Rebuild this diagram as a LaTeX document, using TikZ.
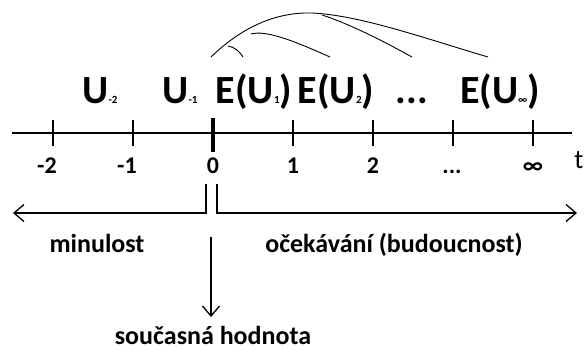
\documentclass[tikz,border=0pt]{standalone}
\usepackage{fontspec}
\setmainfont{Carlito}
\usetikzlibrary{arrows.meta}
\tikzset{>={Straight Barb[length=10pt,width=17pt]}}
\tikzstyle{biglab} = [inner sep=0pt, anchor=base,
    font=\fontsize{40}{40}\selectfont\bfseries]
\tikzstyle{ticklab} = [inner sep=0pt, anchor=base,
    font=\fontsize{24}{24}\selectfont\bfseries]
\tikzstyle{wordlab} = [inner sep=0pt, anchor=base,
    font=\fontsize{26}{26}\selectfont\bfseries]
\tikzstyle{tick} = [line width=1.3pt]
\tikzstyle{arc} = [line width=0.9pt]
\newcommand{\tinysub}[1]{{\fontsize{11}{11}\selectfont #1}}
\newcommand{\tdots}{...}

\begin{document}
\begin{tikzpicture}[x=1pt,y=-1pt]
    \useasboundingbox (0,0) rectangle (585,349);
    %time axis
    \draw[line width=1.5pt] (12,133) -- (572,133);
    \foreach [evaluate={\x=int(53+80*\i);}] \i in {0,1,3,4,5,6}
    {\draw[tick] (\x,120) -- (\x,146);}
    \draw[line width=4.5pt] (213,118) -- (213,152); %present
    %tick labels
    \foreach \x/\lab/\nm in {47/-2/m2, 127/-1/m1, 213/0/z, 293/1/p1,
        373/2/p2, 452/\tdots/pd, 533/∞/pinf}
    {\node[ticklab] (t\nm) at (\x,173) {\lab};}
    \node[inner sep=0pt, anchor=base, font=\fontsize{27}{27}\selectfont]
        (tt) at (579,168) {t};
    %values
    \node[biglab] (um2) at (100,103) {U\tinysub{-2}};
    \node[biglab] (um1) at (180,103) {U\tinysub{-1}};
    \node[biglab] (e1) at (254,103) {E(U\tinysub{1})};
    \node[biglab] (e2) at (336,103) {E(U\tinysub{2})};
    \node[biglab] (ed) at (412,103) {\tdots};
    \node[biglab] (einf) at (500,103) {E(U\tinysub{∞})};
    %discounting arcs
    \coordinate (s0) at (211,57);
    \coordinate (top) at (312,13);
    \coordinate (s4) at (488,57);
    \coordinate (b1) at (228,46);
    \coordinate (s1) at (243,57);
    \coordinate (b2) at (251,34);
    \coordinate (s2) at (330,57);
    \coordinate (b3) at (322,15);
    \coordinate (s3) at (412,57);
    \draw[arc] (s0) .. controls (245,24) and (280,12) .. (top)
        .. controls (360,15) and (430,40) .. (s4);
    \draw[arc] (b1) .. controls (235,47) and (240,52) .. (s1);
    \draw[arc] (b2) .. controls (266,30) and (292,40) .. (s2);
    \draw[arc] (b3) .. controls (350,24) and (385,42) .. (s3);
    %past and future
    \coordinate (lbar) at (206,184);
    \coordinate (rbar) at (217,184);
    \coordinate (ltip) at (13,213);
    \coordinate (rtip) at (577,213);
    \draw[->, line width=1.3pt] (lbar) |- (ltip);
    \draw[->, line width=1.3pt] (rbar) |- (rtip);
    \node[wordlab] (past) at (97,252) {minulost};
    \node[wordlab] (future) at (394,252) {očekávání (budoucnost)};
    %present value
    \node[wordlab] (pv) at (213,344) {současná hodnota};
    \coordinate (pvtop) at (211,237);
    \coordinate (pvtip) at (211,317);
    \draw[->, line width=1.3pt] (pvtop) -- (pvtip);
\end{tikzpicture}
\end{document}
